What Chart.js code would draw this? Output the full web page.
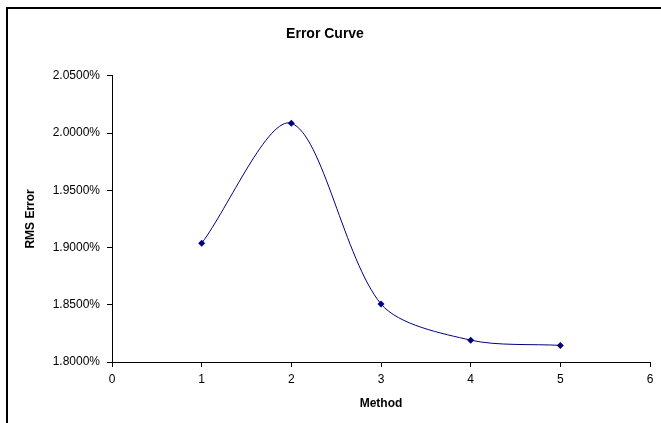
<!DOCTYPE html>
<html>
<head>
<meta charset="utf-8">
<script src="https://cdn.jsdelivr.net/npm/chart.js@4"></script>
<style>
  body { margin: 0; background: #fff; }
  #wrap { position: relative; width: 661px; height: 423px; overflow: hidden; }
  #frame { position: absolute; left: 6px; top: 7px; width: 700px; height: 500px;
           border-left: 2px solid #000; border-top: 2px solid #000; pointer-events: none; }
</style>
</head>
<body>
<div id="wrap">
  <canvas id="errorChart" width="661" height="423"></canvas>
  <div id="frame"></div>
</div>
<script>
// Data
const methods = [1, 2, 3, 4, 5];
const rmsError = [1.9037, 2.0085, 1.8507, 1.8191, 1.8145]; // percent

const xTicks = [0, 1, 2, 3, 4, 5, 6];
const yTicks = [1.80, 1.85, 1.90, 1.95, 2.00, 2.05];

const tickFont = { family: "'Liberation Sans', Arial, sans-serif", size: 12 };
const boldFont = { family: "'Liberation Sans', Arial, sans-serif", size: 12, weight: "bold" };

const points = methods.map((m, i) => ({ x: m, y: rmsError[i] }));

new Chart(document.getElementById("errorChart").getContext("2d"), {
    type: "scatter",
    data: {
        datasets: [{
            label: "RMS Error",
            data: points,
            showLine: true,
            tension: 0.3,
            borderColor: "#000080",
            borderWidth: 1,
            backgroundColor: "#000080",
            pointStyle: "rectRot",
            pointRadius: 3.5,
            pointBorderWidth: 0
        }]
    },
    options: {
        responsive: false,
        animation: false,
        layout: { padding: { left: 0, right: 11, top: 0, bottom: 0 } },
        plugins: {
            legend: { display: false },
            tooltip: { enabled: false },
            title: {
                display: true,
                text: "Error Curve",
                color: "#000",
                font: { family: "'Liberation Sans', Arial, sans-serif", size: 14, weight: "bold" },
                padding: { top: 26, bottom: 33 }
            }
        },
        scales: {
            x: {
                type: "linear",
                min: xTicks[0],
                max: xTicks[xTicks.length - 1],
                afterBuildTicks: s => { s.ticks = xTicks.map(v => ({ value: v })); },
                afterFit: s => { s.height = 61; },
                grid: { drawOnChartArea: false, drawTicks: true, tickLength: 5, color: "#000" },
                border: { display: true, color: "#000", width: 1 },
                ticks: { color: "#000", font: tickFont, padding: 5, maxRotation: 0 },
                title: { display: true, text: "Method", color: "#000", font: boldFont, padding: { top: 0, bottom: 12 } }
            },
            y: {
                min: yTicks[0],
                max: yTicks[yTicks.length - 1],
                afterBuildTicks: s => { s.ticks = yTicks.map(v => ({ value: v })); },
                afterFit: s => { s.width = 112; },
                grid: { drawOnChartArea: false, drawTicks: true, tickLength: 5, color: "#000" },
                border: { display: true, color: "#000", width: 1 },
                ticks: { color: "#000", font: tickFont, padding: 7, callback: v => v.toFixed(4) + "%" },
                title: { display: true, text: "RMS Error", color: "#000", font: boldFont, padding: { top: 23, bottom: 0 } }
            }
        }
    }
});
</script>
</body>
</html>
